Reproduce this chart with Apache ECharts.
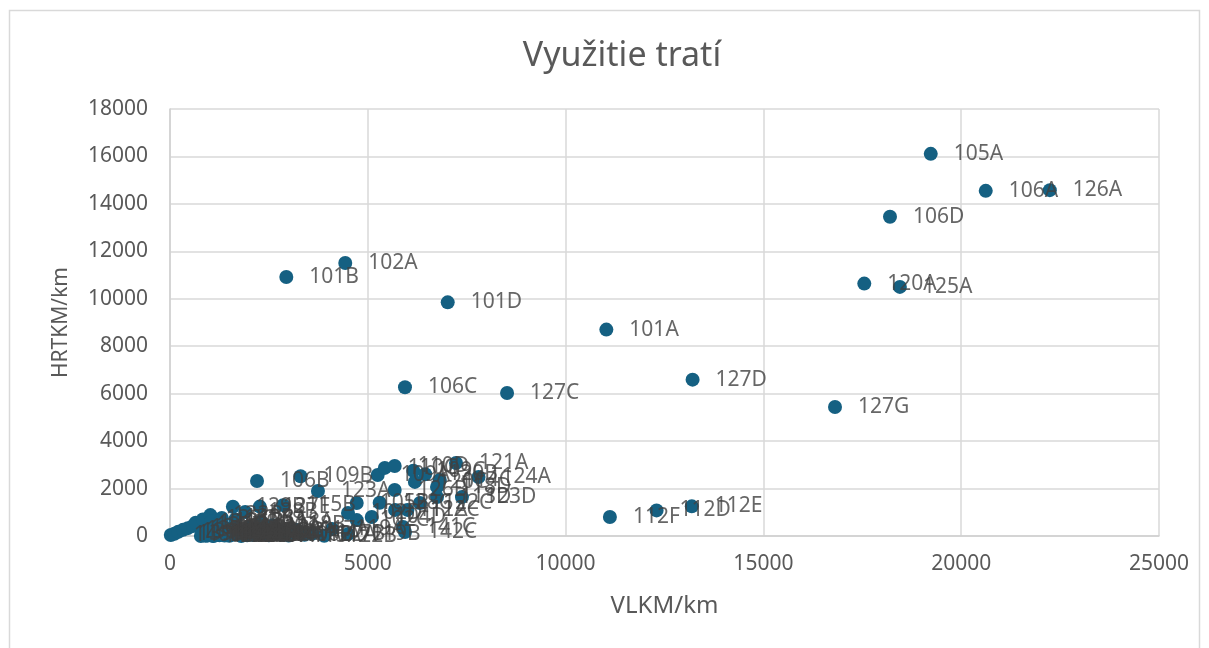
<!DOCTYPE html>
<html lang="sk">
<head>
    <meta charset="UTF-8">
    <title>Využitie tratí</title>
    <script src="https://cdn.jsdelivr.net/npm/echarts@6/dist/echarts.min.js"></script>
    <style>
        html, body { margin: 0; padding: 0; background: #fff; }
        #chart { width: 1209px; height: 648px; }
    </style>
</head>
<body>
<div id="chart"></div>

<script type="text/javascript">
    // trate (nazov, VLKM/km, HRTKM/km) - odcitane z grafu
    var trate = [
        '105A', '106A', '126A', '106D', '101B', '102A', '101D', '101A', '120A', '125A',
        '106C', '127C', '127D', '127G', '112F', '112D', '112E',
        '140B', '139B', '138B', '137B', '136B', '135C', '134C', '133C', '132B', '131B',
        '130B', '129B', '128B', '127E', '115B',
        '103A', '103B', '103C', '104A', '104B', '104C', '107A', '107B', '107C', '108A',
        '108C', '110A', '110B', '111A', '111B', '113A', '113B', '114A', '116A', '116B',
        '117A', '117B', '119A', '119B',
        '106B', '109B', '123A', '105B', '102C', '102D', '104D', '109A', '110C', '110D',
        '126B', '122C', '118D', '121A', '124A', '123D', '109C', '120C', '114C', '141C',
        '142C', '112C', '112A', '128C', '113D', '120B',
        '130A', '131A', '132A', '133A', '134A', '135A', '136A', '137A', '138A', '139A',
        '140A', '129A', '128A', '118A', '118B', '115A', '122A', '122B',
        '141A', '141B', '142A', '142B', '143A', '143B', '144A', '144B'
    ];
    var vlkm = [
        19230, 20620, 22240, 18200, 2940, 4430, 7020, 11030, 17550, 18450,
        5940, 8520, 13210, 16810, 11120, 12300, 13190,
        20, 110, 210, 330, 450, 580, 650, 830, 1020, 1050,
        1310, 1590, 1900, 2270, 2860,
        850, 950, 1050, 1150, 1250, 1350, 1450, 1550, 1650, 1750,
        1850, 1950, 2050, 880, 1120, 1400, 1700, 2000, 2400, 2800,
        3200, 3600, 4100, 4500,
        2200, 3300, 3740, 4720, 4720, 4500, 5100, 5250, 5430, 5680,
        5680, 6320, 6750, 7230, 7800, 7380, 6150, 6190, 6820, 5890,
        5940, 6000, 5690, 5300, 6750, 6450,
        900, 1000, 1100, 1200, 1300, 1500, 1600, 1800, 1900, 2100,
        2500, 1250, 1650, 2300, 2600, 3000, 3400, 3900,
        780, 820, 930, 980, 1080, 1180, 1280, 1380
    ];
    var hrtkm = [
        16110, 14550, 14580, 13460, 10920, 11510, 9850, 8700, 10640, 10500,
        6270, 6030, 6590, 5440, 800, 1080, 1250,
        40, 90, 180, 260, 330, 420, 560, 700, 880, 610,
        760, 1230, 1010, 1240, 1300,
        60, 20, 150, 80, 30, 200, 100, 40, 170, 60,
        120, 30, 220, 250, 300, 350, 280, 380, 150, 60,
        250, 100, 300, 80,
        2320, 2520, 1900, 1390, 670, 970, 800, 2570, 2870, 2950,
        1940, 1390, 2070, 3080, 2490, 1640, 2750, 2280, 2360, 380,
        170, 1100, 1100, 1400, 1640, 2600,
        10, 110, 0, 60, 130, 10, 80, 0, 100, 40,
        30, 550, 700, 600, 450, 20, 50, 10,
        0, 120, 40, 200, 10, 90, 160, 20
    ];
    var xTicks = [0, 5000, 10000, 15000, 20000, 25000];
    var yTicks = [0, 2000, 4000, 6000, 8000, 10000, 12000, 14000, 16000, 18000];

    var body = document.getElementById('chart');
    var myChart = echarts.init(body);

    var body_data = [];
    for (var i = 0; i < trate.length; i++) {
        body_data.push([vlkm[i], hrtkm[i], trate[i]]);
    }

    var font = '"Noto Sans", "Open Sans", sans-serif';

    var option = {
        animation: false,
        backgroundColor: '#ffffff',
        textStyle: { fontFamily: font },
        title: {
            text: 'Využitie tratí',
            left: 617,
            top: 34,
            textAlign: 'center',
            textStyle: { fontFamily: font, fontSize: 34, fontWeight: 'normal', color: '#595959' }
        },
        graphic: [{
            type: 'rect',
            shape: { x: 9.5, y: 10.5, width: 1190, height: 660 },
            style: { fill: 'none', stroke: '#d9d9d9', lineWidth: 1.5 },
            silent: true
        }],
        grid: { left: 170, top: 109, right: 50, bottom: 112 },
        xAxis: {
            type: 'value',
            min: xTicks[0],
            max: xTicks[xTicks.length - 1],
            interval: xTicks[1] - xTicks[0],
            name: 'VLKM/km',
            nameLocation: 'middle',
            nameGap: 58,
            nameTextStyle: { fontFamily: font, fontSize: 24, color: '#595959' },
            axisLine: { lineStyle: { color: '#d0d0d0', width: 1.5 } },
            axisTick: { show: false },
            axisLabel: {
                fontFamily: font, fontSize: 21, color: '#595959', margin: 18,
                formatter: function (v) { return String(v); }
            },
            splitLine: { lineStyle: { color: '#d9d9d9', width: 1.5 } }
        },
        yAxis: {
            type: 'value',
            min: yTicks[0],
            max: yTicks[yTicks.length - 1],
            interval: yTicks[1] - yTicks[0],
            name: 'HRTKM/km',
            nameLocation: 'middle',
            nameGap: 98,
            nameTextStyle: { fontFamily: font, fontSize: 21, color: '#595959' },
            axisLine: { show: true, lineStyle: { color: '#d0d0d0', width: 1.5 } },
            axisTick: { show: false },
            axisLabel: {
                fontFamily: font, fontSize: 21, color: '#595959', margin: 22,
                formatter: function (v) { return String(v); }
            },
            splitLine: { lineStyle: { color: '#d9d9d9', width: 1.5 } }
        },
        series: [
            {
                // body
                type: 'scatter',
                symbol: 'circle',
                symbolSize: 14,
                z: 2,
                itemStyle: { color: '#156082', opacity: 1 },
                data: body_data
            },
            {
                // popisky nad vsetkymi bodmi (ako v Exceli)
                type: 'scatter',
                symbol: 'circle',
                symbolSize: 14,
                z: 5,
                silent: true,
                itemStyle: { color: 'rgba(0,0,0,0)' },
                data: body_data,
                label: {
                    show: true,
                    position: 'right',
                    distance: 16,
                    offset: [0, 2],
                    formatter: function (p) { return p.data[2]; },
                    fontFamily: font,
                    fontSize: 21,
                    color: '#404040'
                },
                labelLayout: { hideOverlap: false }
            }
        ]
    };

    myChart.setOption(option);
</script>
</body>
</html>
